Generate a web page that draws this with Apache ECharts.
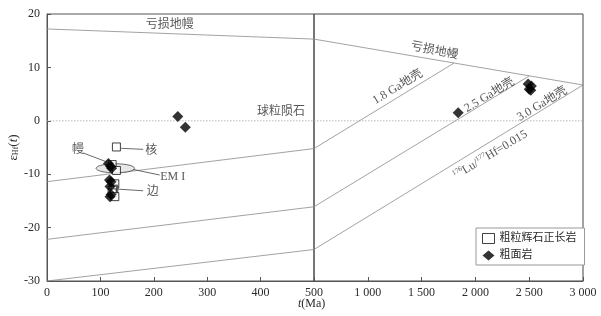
<!DOCTYPE html>
<html><head><meta charset="utf-8">
<script src="https://cdn.jsdelivr.net/npm/echarts@6/dist/echarts.min.js"></script>
<style>html,body{margin:0;padding:0;background:#fff}#c{width:601px;height:316px}</style>
</head><body><div id="c"></div>
<script>
// ---- data ----
const yTicks = [-30, -20, -10, 0, 10, 20];
const xTicksLeft = [0, 100, 200, 300, 400, 500];
const xTicksRight = [500, 1000, 1500, 2000, 2500, 3000];
// depleted mantle evolution
const dmLeft = [[0, 17.2], [500, 15.3]];
const dmRight = [[500, 15.3], [3000, 6.7]];
// chondrite
const churLeft = [[0, 0], [500, 0]];
const churRight = [[500, 0], [3000, 0]];
// crust evolution lines (176Lu/177Hf = 0.015)
const crust18Left = [[0, -11.4], [500, -5.2]];
const crust18Right = [[500, -5.2], [1800, 10.8]];
const crust25Left = [[0, -22.2], [500, -16.1]];
const crust25Right = [[500, -16.1], [2500, 8.4]];
const crust30Left = [[0, -30], [500, -24.1]];
const crust30Right = [[500, -24.1], [3000, 6.7]];
// samples
const syenite = [[130, -4.9], [122, -8.2], [130, -9.3], [127, -11.8], [125, -12.8], [123, -13.0], [122, -13.5], [127, -14.2]];
const trachyteLeft = [[115, -8.0], [119, -8.5], [121, -8.9], [117, -11.1], [120, -11.4], [118, -12.3], [120, -13.8], [118, -14.2], [245, 0.8], [259, -1.2]];
const trachyteRight = [[1840, 1.5], [2490, 6.9], [2520, 6.5], [2500, 5.9], [2515, 5.7]];
// EM I ellipse: center x, center y, semi-axis x (Ma), semi-axis y (epsilon)
const emEllipse = [[128, -8.9, 36, 0.85]];
// pointer lines and labels
const pointerLines = [
  [[67, -6.0], [112, -7.7]],
  [[139, -5.15], [180, -5.35]],
  [[161, -9.1], [211, -10.15]],
  [[133, -12.8], [180, -13.1]]
];
const pointerLabelsLeft = [
  {pos: [58, -5.5], text: '幔', align: 'center'},
  {pos: [184, -5.55], text: '核', align: 'left'},
  {pos: [212, -10.45], text: 'EM I', align: 'left'},
  {pos: [187, -13.3], text: '边', align: 'left'},
  {pos: [230, 17.95], text: '亏损地幔', align: 'center', rotate: 0},
  {pos: [438, 1.7], text: '球粒陨石', align: 'center', rotate: 0}
];
const curveLabelsRight = [
  {pos: [1620, 13.1], text: '亏损地幔', rotate: -11},
  {pos: [1278, 6.3], text: '1.8 Ga地壳', rotate: 31},
  {pos: [2130, 4.8], text: '2.5 Ga地壳', rotate: 31},
  {pos: [2620, 3.15], text: '3.0 Ga地壳', rotate: 31},
  {pos: [2139, -6.4], text: '{sup|176}Lu/{sup|177}Hf=0.015', rotate: 31}
];

// ---- chart ----
const FONT = '"Liberation Serif", "Noto Sans CJK SC", serif';
const TXT = '#2a2a2a';
const chart = echarts.init(document.getElementById('c'), null, {renderer: 'canvas'});

function fmtK(v) {
  if (v >= 1000) return Math.floor(v / 1000) + ' ' + String(v % 1000).padStart(3, '0');
  return String(v);
}
const thinLine = (data, xi, extra) => Object.assign({
  type: 'line', xAxisIndex: xi, yAxisIndex: xi, data: data, symbol: 'none', silent: true,
  lineStyle: {color: '#8a8a8a', width: 0.8}, z: 2
}, extra || {});

const series = [
  thinLine(dmLeft, 0), thinLine(dmRight, 1),
  thinLine(churLeft, 0, {lineStyle: {color: '#aaa', width: 0.8, type: [1.5, 1.5]}}),
  thinLine(churRight, 1, {lineStyle: {color: '#aaa', width: 0.8, type: [1.5, 1.5]}}),
  thinLine(crust18Left, 0), thinLine(crust18Right, 1),
  thinLine(crust25Left, 0), thinLine(crust25Right, 1),
  thinLine(crust30Left, 0), thinLine(crust30Right, 1),
  {
    type: 'custom', xAxisIndex: 0, yAxisIndex: 0, silent: true, z: 3,
    data: emEllipse,
    renderItem: function (params, api) {
      const c = api.coord([api.value(0), api.value(1)]);
      const s = api.size([api.value(2), api.value(3)]);
      const pts = [];
      for (let i = 0; i < 72; i++) {
        const a = i / 72 * Math.PI * 2;
        pts.push([c[0] + s[0] * Math.cos(a), c[1] + s[1] * Math.sin(a)]);
      }
      return {type: 'polygon', shape: {points: pts}, style: {fill: 'rgba(215,215,215,0.6)', stroke: '#444', lineWidth: 0.8}};
    }
  }
];
pointerLines.forEach(function (seg) {
  series.push(thinLine(seg, 0, {lineStyle: {color: '#444', width: 0.8}, z: 4}));
});
series.push({
  name: '粗粒辉石正长岩', type: 'scatter', xAxisIndex: 0, yAxisIndex: 0, data: syenite,
  symbol: 'rect', symbolSize: 8, z: 6,
  itemStyle: {color: '#fff', borderColor: '#111', borderWidth: 1}
});
series.push({
  name: '粗面岩', type: 'scatter', xAxisIndex: 0, yAxisIndex: 0, data: trachyteLeft,
  symbol: 'diamond', symbolSize: 11, z: 7, itemStyle: {color: '#000'}
});
series.push({
  name: '粗面岩', type: 'scatter', xAxisIndex: 1, yAxisIndex: 1, data: trachyteRight,
  symbol: 'diamond', symbolSize: 11, z: 7, itemStyle: {color: '#000'}
});
series.push({
  type: 'scatter', xAxisIndex: 0, yAxisIndex: 0, symbolSize: 0, silent: true, z: 8,
  data: pointerLabelsLeft.map(function (d) {
    return {value: d.pos, label: {formatter: d.text, align: d.align}};
  }),
  label: {show: true, position: 'inside', color: TXT, fontSize: 12, fontFamily: FONT}
});
series.push({
  type: 'scatter', xAxisIndex: 1, yAxisIndex: 1, symbolSize: 0, silent: true, z: 8,
  data: curveLabelsRight.map(function (d) {
    return {value: d.pos, label: {formatter: d.text, rotate: d.rotate}};
  }),
  label: {
    show: true, position: 'inside', color: TXT, fontSize: 12, fontFamily: FONT,
    rich: {sup: {fontSize: 7, fontFamily: FONT, color: TXT, verticalAlign: 'top', lineHeight: 14}}
  }
});

const axisCommon = {
  axisLine: {show: true, onZero: false, lineStyle: {color: '#555', width: 1}},
  axisTick: {show: true, inside: true, length: 4, lineStyle: {color: '#555'}},
  splitLine: {show: false},
  axisLabel: {color: TXT, fontSize: 12, fontFamily: FONT}
};

chart.setOption({
  animation: false,
  backgroundColor: '#fff',
  grid: [
    {left: 47, top: 14, width: 267, height: 267, show: true, borderColor: '#555', borderWidth: 1},
    {left: 314, top: 14, width: 269, height: 267, show: true, borderColor: '#444', borderWidth: 1}
  ],
  xAxis: [
    Object.assign({}, axisCommon, {gridIndex: 0, type: 'value', min: xTicksLeft[0], max: xTicksLeft[xTicksLeft.length - 1], interval: 100,
      axisLabel: Object.assign({}, axisCommon.axisLabel, {margin: 6})}),
    Object.assign({}, axisCommon, {gridIndex: 1, type: 'value', min: xTicksRight[0], max: xTicksRight[xTicksRight.length - 1], interval: 500,
      axisLabel: Object.assign({}, axisCommon.axisLabel, {margin: 6, showMinLabel: false, formatter: fmtK})})
  ],
  yAxis: [
    Object.assign({}, axisCommon, {gridIndex: 0, type: 'value', min: yTicks[0], max: yTicks[yTicks.length - 1], interval: 10,
      axisLabel: Object.assign({}, axisCommon.axisLabel, {margin: 7}),
      name: '{e|ε}{sub|Hf}{n|(}{i|t}{n|)}', nameLocation: 'middle', nameGap: 27, nameRotate: 90,
      nameTextStyle: {color: TXT, fontFamily: FONT, fontSize: 13,
        rich: {e: {fontSize: 13, fontFamily: FONT, color: TXT}, sub: {fontSize: 8, fontFamily: FONT, color: TXT, verticalAlign: 'bottom', padding: [5, 0, 0, 0]},
          n: {fontSize: 13, fontFamily: FONT, color: TXT}, i: {fontSize: 13, fontFamily: FONT, fontStyle: 'italic', color: TXT}}}}),
    {gridIndex: 1, type: 'value', min: yTicks[0], max: yTicks[yTicks.length - 1], interval: 10,
      axisLine: {show: false, onZero: false}, axisTick: {show: false}, axisLabel: {show: false}, splitLine: {show: false}}
  ],
  legend: {
    left: 476, top: 228, orient: 'vertical', itemGap: 6, itemWidth: 12, itemHeight: 10,
    padding: [5, 8, 4, 6], borderColor: '#999', borderWidth: 1, backgroundColor: '#fff',
    textStyle: {color: TXT, fontSize: 11, fontFamily: FONT},
    data: [
      {name: '粗粒辉石正长岩', icon: 'rect', itemStyle: {color: '#fff', borderColor: '#111', borderWidth: 1}},
      {name: '粗面岩', icon: 'diamond'}
    ]
  },
  graphic: [{
    type: 'text', left: 298, top: 298,
    style: {text: '{i|t}(Ma)', fill: TXT, font: '12px ' + FONT,
      rich: {i: {fontStyle: 'italic', fontSize: 12, fontFamily: FONT, fill: TXT}}}
  }],
  series: series
});
</script>
</body></html>
